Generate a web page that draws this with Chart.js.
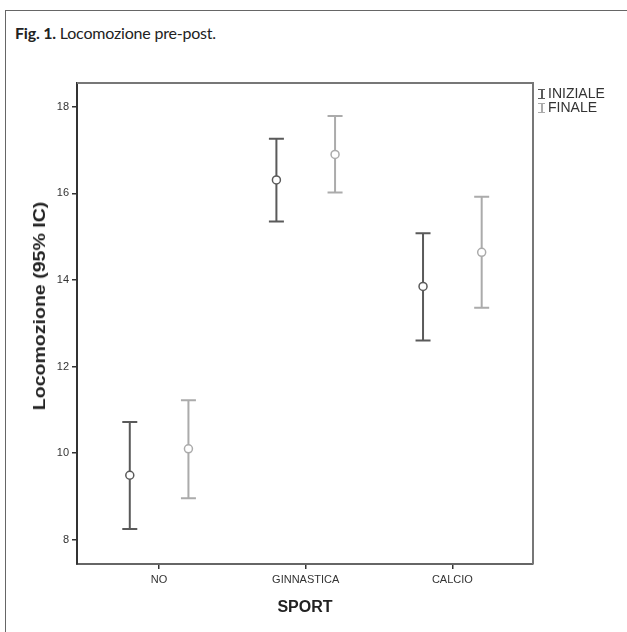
<!DOCTYPE html>
<html>
<head>
<meta charset="utf-8">
<script src="https://cdn.jsdelivr.net/npm/chart.js@4.4.0/dist/chart.umd.min.js"></script>
<style>
    body { margin: 0; background: #fff; }
    #frame { position: absolute; left: 5px; top: 10px; width: 640px; height: 640px; border-top: 1px solid #666; border-left: 1px solid #666; }
    #title { position: absolute; left: 15px; top: 23px; font-family: Lato, sans-serif; font-size: 16px; letter-spacing: -0.2px; color: #222; }
    #title b { font-weight: 700; }
    #wrap { position: absolute; left: 0; top: 0; width: 627px; height: 632px; }
    #ytitle { position: absolute; left: 40px; top: 306px; }
    #ytitle span { position: absolute; white-space: nowrap; font-family: "Liberation Sans", Arial, sans-serif; font-size: 17px; font-weight: bold; color: #222;
        transform: translate(-50%, -50%) rotate(-90deg) scaleX(1.15); }
    #legend { position: absolute; left: 538px; top: 86px; font-family: "Liberation Sans", Arial, sans-serif; font-size: 14px; color: #333; }
    .item { height: 14px; line-height: 14px; white-space: nowrap; }
    .ebar { display: inline-block; position: relative; width: 7px; height: 10px; margin-right: 3px; vertical-align: -1px; border-top: 1px solid; border-bottom: 1px solid; box-sizing: border-box; }
    .ebar::after { content: ''; position: absolute; left: 2.5px; top: 0; width: 2px; height: 100%; background: currentColor; }
</style>
</head>
<body>
<div id="frame"></div>
<div id="title"><b>Fig. 1.</b> Locomozione pre-post.</div>
<div id="wrap"><canvas id="chart"></canvas></div>
<div id="ytitle"><span>Locomozione (95% IC)</span></div>
<div id="legend">
    <div class="item"><span class="ebar" style="color:#5a5a5a"></span>INIZIALE</div>
    <div class="item"><span class="ebar" style="color:#ababab"></span>FINALE</div>
</div>
<script>
    // categorie e valori (media e intervallo di confidenza 95%)
    const categories = ['NO', 'GINNASTICA', 'CALCIO'];
    const inizialeMean = [9.49, 16.31, 13.85];
    const inizialeLow = [8.25, 15.35, 12.60];
    const inizialeHigh = [10.72, 17.26, 15.08];
    const finaleMean = [10.10, 16.90, 14.64];
    const finaleLow = [8.96, 16.02, 13.36];
    const finaleHigh = [11.22, 17.79, 15.92];
    const yTicks = [8, 10, 12, 14, 16, 18];

    const darkGrey = '#5a5a5a';
    const lightGrey = '#ababab';
    const shift = 0.2;

    function buildPoints(means, lows, highs, offset) {
        return means.map((m, i) => ({ x: i + offset, y: m, yMin: lows[i], yMax: highs[i] }));
    }

    // disegna le barre di errore prima dei punti
    const errorBars = {
        id: 'errorBars',
        beforeDatasetsDraw(chart) {
            const { ctx, scales: { x, y } } = chart;
            chart.data.datasets.forEach(ds => {
                ctx.save();
                ctx.strokeStyle = ds.borderColor;
                ctx.lineWidth = 2;
                ds.data.forEach(p => {
                    const px = x.getPixelForValue(p.x);
                    const top = y.getPixelForValue(p.yMax);
                    const bot = y.getPixelForValue(p.yMin);
                    ctx.beginPath();
                    ctx.moveTo(px, top); ctx.lineTo(px, bot);
                    ctx.moveTo(px - 7.5, top); ctx.lineTo(px + 7.5, top);
                    ctx.moveTo(px - 7.5, bot); ctx.lineTo(px + 7.5, bot);
                    ctx.stroke();
                });
                ctx.restore();
            });
        },
        afterDraw(chart) {
            // bordo superiore e destro dell'area del grafico
            const { ctx, chartArea: a } = chart;
            ctx.save();
            ctx.strokeStyle = '#777';
            ctx.lineWidth = 2;
            ctx.beginPath();
            ctx.moveTo(a.left, a.top); ctx.lineTo(a.right, a.top); ctx.lineTo(a.right, a.bottom);
            ctx.stroke();
            ctx.restore();
        }
    };

    new Chart(document.getElementById('chart'), {
        type: 'scatter',
        data: {
            datasets: [
                {
                    label: 'INIZIALE',
                    data: buildPoints(inizialeMean, inizialeLow, inizialeHigh, -shift),
                    borderColor: darkGrey,
                    backgroundColor: '#fff',
                    pointRadius: 4,
                    pointBorderWidth: 1.5
                },
                {
                    label: 'FINALE',
                    data: buildPoints(finaleMean, finaleLow, finaleHigh, shift),
                    borderColor: lightGrey,
                    backgroundColor: '#fff',
                    pointRadius: 4,
                    pointBorderWidth: 1.5
                }
            ]
        },
        options: {
            responsive: true,
            maintainAspectRatio: false,
            animation: false,
            layout: { padding: { left: 0, top: 83, right: 94, bottom: 8 } },
            plugins: { legend: { display: false }, tooltip: { enabled: false } },
            scales: {
                x: {
                    type: 'linear',
                    min: -0.56,
                    max: 2.55,
                    afterBuildTicks: scale => { scale.ticks = categories.map((c, i) => ({ value: i })); },
                    afterFit: scale => { scale.height = 60; },
                    grid: { drawOnChartArea: false, tickLength: 5, color: '#333', lineWidth: 1.5 },
                    border: { color: '#666', width: 2 },
                    ticks: {
                        autoSkip: false, maxRotation: 0, padding: 4, color: '#333',
                        font: { family: 'Liberation Sans', size: 11 },
                        callback: v => categories[v]
                    },
                    title: {
                        display: true, text: 'SPORT', color: '#222',
                        font: { family: 'Liberation Sans', size: 16, weight: 'bold' },
                        padding: { top: 0, bottom: 7 }
                    }
                },
                y: {
                    min: 7.44,
                    max: 18.55,
                    afterBuildTicks: scale => { scale.ticks = yTicks.map(v => ({ value: v })); },
                    afterFit: scale => { scale.width = 77; },
                    grid: { drawOnChartArea: false, tickLength: 5, color: '#333', lineWidth: 1.5 },
                    border: { color: '#333', width: 2 },
                    ticks: {
                        padding: 3, color: '#333',
                        font: { family: 'Liberation Sans', size: 11 }
                    }
                }
            }
        },
        plugins: [errorBars]
    });
</script>
</body>
</html>
